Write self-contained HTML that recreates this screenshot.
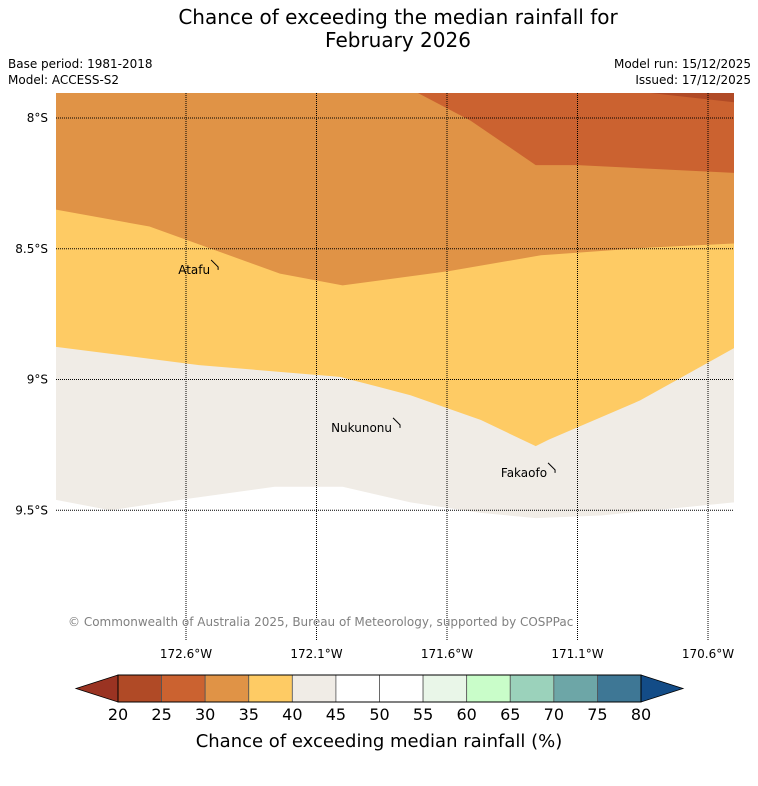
<!DOCTYPE html>
<html><head><meta charset="utf-8"><style>
body{margin:0;background:#fff;font-family:"Liberation Sans","DejaVu Sans",sans-serif}
svg text{font-family:"DejaVu Sans","Liberation Sans",sans-serif}
</style></head><body>
<svg id="c" width="758" height="781" viewBox="0 0 758 781">
<text x="398" y="24" font-size="20" text-anchor="middle">Chance of exceeding the median rainfall for</text>
<text x="398" y="47" font-size="20" text-anchor="middle">February 2026</text>
<text x="8" y="68" font-size="12">Base period: 1981-2018</text>
<text x="8" y="84" font-size="12">Model: ACCESS-S2</text>
<text x="751" y="68" font-size="12" text-anchor="end">Model run: 15/12/2025</text>
<text x="751" y="84" font-size="12" text-anchor="end">Issued: 17/12/2025</text>
<defs><clipPath id="mc"><rect x="56" y="93" width="678" height="547"/></clipPath></defs>
<g id="map" clip-path="url(#mc)"><rect x="56" y="93" width="678" height="547" fill="#ffffff"/></g>
<g id="grid"></g>
<g id="labels"></g>
<g id="cbar"></g>
<text x="379" y="747" font-size="18" text-anchor="middle">Chance of exceeding median rainfall (%)</text>
</svg>
<script>
const NS="http://www.w3.org/2000/svg";
// contour boundaries (lon degrees W, lat degrees S)
const darkLon=[170.86,170.5], darkLat=[7.90,7.94];
const orangeLon=[171.72,171.51,171.26,171.10,170.5], orangeLat=[7.90,8.01,8.18,8.18,8.21];
const lorangeLon=[173.1,172.74,172.24,172.0,171.59,171.24,170.82,170.5], lorangeLat=[8.35,8.415,8.595,8.64,8.585,8.525,8.495,8.48];
const yellowLon=[173.1,172.55,172.01,171.74,171.47,171.26,171.21,170.86,170.5], yellowLat=[8.875,8.945,8.99,9.06,9.155,9.255,9.23,9.08,8.88];
const grayLon=[173.1,172.89,172.62,172.26,172.0,171.74,171.47,171.26,171.01,170.5], grayLat=[9.46,9.50,9.46,9.41,9.41,9.47,9.51,9.53,9.52,9.47];
const latTicks=[8,8.5,9,9.5], latLabels=["8°S","8.5°S","9°S","9.5°S"];
const lonTicks=[172.6,172.1,171.6,171.1,170.6], lonLabels=["172.6°W","172.1°W","171.6°W","171.1°W","170.6°W"];
const places=["Atafu","Nukunonu","Fakaofo"], placeLon=[172.477,171.78,171.186], placeLat=[8.581,9.185,9.357];
const cbTicks=[20,25,30,35,40,45,50,55,60,65,70,75,80];
const cbColors=["#b04a26","#cb6230","#e09346","#fecb64","#f0ece6","#ffffff","#ffffff","#e9f6e8","#c9fdc9","#9bd2bb","#6da6a7","#3e7795"];
const X=lon=>186+(172.6-lon)*261, Y=lat=>118+(lat-8)*261.5;
function el(t,a,p){const e=document.createElementNS(NS,t);for(const k in a)e.setAttribute(k,a[k]);(p||document.getElementById('c')).appendChild(e);return e;}
const map=document.getElementById('map');
function region(lons,lats,fill,name){
  let pts=lons.map((l,i)=>X(l)+","+Y(lats[i]));
  const ps=[X(lons[0])+",80"].concat(pts).concat([X(lons[lons.length-1])+",80"]);
  const e=el('polygon',{points:ps.join(" "),fill:fill},map);
  
  
}
region(grayLon,grayLat,"#f0ece6","region-40-45");
region(yellowLon,yellowLat,"#fecb64","region-35-40");
region(lorangeLon,lorangeLat,"#e09346","region-30-35");
region([171.8].concat(orangeLon),[7.7].concat(orangeLat),"#cb6230","region-25-30");
region(darkLon,darkLat,"#b04a26","region-20-25");
const g=document.getElementById('grid');
latTicks.forEach((t,i)=>{
  const l=el('line',{x1:56,x2:734,y1:Y(t),y2:Y(t),stroke:"#000","stroke-width":1,"stroke-dasharray":"1,1"},g);
  
  
  const tx=el('text',{x:48,y:Y(t)+4,"font-size":12,"text-anchor":"end"},g);tx.textContent=latLabels[i];
  
  
});
lonTicks.forEach((t,i)=>{
  const l=el('line',{x1:X(t),x2:X(t),y1:93,y2:640,stroke:"#000","stroke-width":1,"stroke-dasharray":"1,1"},g);
  
  
  const tx=el('text',{x:X(t),y:658,"font-size":12,"text-anchor":"middle"},g);tx.textContent=lonLabels[i];
  
  
});
const lb=document.getElementById('labels');
places.forEach((p,i)=>{
  const x=X(placeLon[i]),y=Y(placeLat[i]);
  const l=el('path',{d:`M${x-7} ${y-10} L${x} ${y-3} L${x} ${y}`,stroke:"#000",fill:"none","stroke-width":1},lb);
  
  
  const tx=el('text',{x:x-8,y:y+4,"font-size":12,"text-anchor":"end"},lb);tx.textContent=p;
  
  
});
const cp=el('text',{x:68,y:626,"font-size":12,fill:"#808080"},lb);cp.textContent="© Commonwealth of Australia 2025, Bureau of Meteorology, supported by COSPPac";


const cb=document.getElementById('cbar');
const CX=v=>118+(v-20)/60*523, cy0=675, cy1=702;
const lt=el('polygon',{points:`${CX(20)},${cy0} 76,${(cy0+cy1)/2} ${CX(20)},${cy1}`,fill:"#9a3322",stroke:"#000","stroke-width":0.8},cb);


const rt=el('polygon',{points:`${CX(80)},${cy0} 683,${(cy0+cy1)/2} ${CX(80)},${cy1}`,fill:"#134c87",stroke:"#000","stroke-width":0.8},cb);


cbColors.forEach((c,i)=>{
  const r=el('rect',{x:CX(cbTicks[i]),y:cy0,width:CX(cbTicks[i+1])-CX(cbTicks[i]),height:cy1-cy0,fill:c,stroke:"#555","stroke-width":0.8},cb);
  
  
});
el('rect',{x:CX(20),y:cy0,width:CX(80)-CX(20),height:cy1-cy0,fill:"none",stroke:"#000","stroke-width":1},cb);
cbTicks.forEach(v=>{
  const tx=el('text',{x:CX(v),y:720,"font-size":16,"text-anchor":"middle"},cb);tx.textContent=v;
  
  
});
</script>
</body></html>
